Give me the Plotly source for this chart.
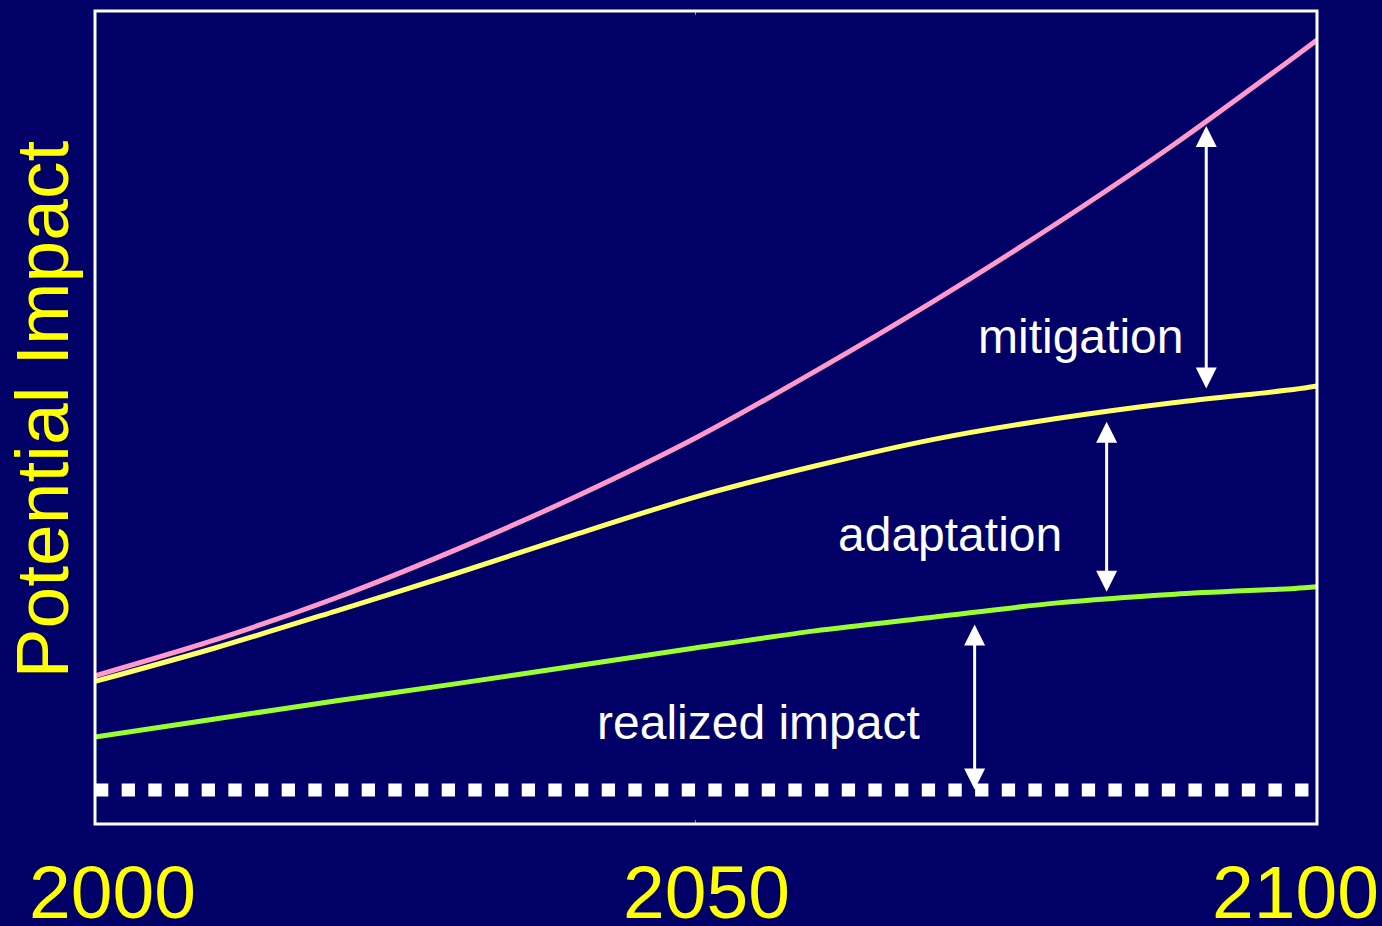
import numpy as np
import plotly.graph_objects as go

# Years sampled along each curve; the last sample sits on the right edge of the frame
X_END = 2101.83
years = [2000, 2010, 2020, 2030, 2040, 2050, 2060, 2070, 2080, 2090, 2100, X_END]

# Potential impact without any response (pink)
no_action = [14.0, 18.4, 23.5, 29.4, 35.9, 43.1, 51.3, 60.0, 69.3, 79.2, 89.9, 91.9]
# Potential impact after mitigation (yellow)
with_mitigation = [13.3, 17.4, 21.9, 26.5, 31.3, 35.9, 39.7, 43.0, 45.5, 47.5, 49.1, 49.5]
# Realized impact after adaptation as well (green)
with_adaptation = [6.5, 8.7, 10.9, 13.0, 15.2, 17.4, 19.5, 21.2, 22.9, 24.0, 24.7, 24.9]
# Reference level (no impact)
baseline = [0.0] * len(years)

tick_years = [2000, 2050, 2100]
tick_labels = ["2000", "2050", "2100"]

# Labelled double arrows between neighbouring curves
gap_labels = ["mitigation", "adaptation", "realized impact"]
gap_years = [2092.6, 2084.3, 2073.3]

BG = "#000066"
FONT = "Liberation Sans, Arial, sans-serif"
PX_PER_UNIT = 8.16  # vertical scale, used to keep arrow tips a few pixels off the curves

fig = go.Figure()

fig.add_trace(go.Scatter(x=years, y=baseline, mode="lines",
                         line=dict(color="white", width=13, dash="13.3px,13.37px"),
                         hoverinfo="skip"))
curve_style = dict(width=5, shape="spline", smoothing=0.8)
fig.add_trace(go.Scatter(x=years, y=with_adaptation, mode="lines",
                         line=dict(color="#99FF33", **curve_style), hoverinfo="skip"))
fig.add_trace(go.Scatter(x=years, y=with_mitigation, mode="lines",
                         line=dict(color="#FFFF66", **curve_style), hoverinfo="skip"))
fig.add_trace(go.Scatter(x=years, y=no_action, mode="lines",
                         line=dict(color="#FF99CC", **curve_style), hoverinfo="skip"))

# Double-headed arrows spanning the gap between neighbouring curves
pairs = [(no_action, with_mitigation), (with_mitigation, with_adaptation), (with_adaptation, baseline)]
gaps_px = [(5, 10), (10, 7), (12, 0)]
for (upper, lower), yr, (g_top, g_bot) in zip(pairs, gap_years, gaps_px):
    top = float(np.interp(yr, years, upper)) - g_top / PX_PER_UNIT
    bot = float(np.interp(yr, years, lower)) + g_bot / PX_PER_UNIT
    fig.add_annotation(x=yr, y=top, ax=yr, ay=bot, axref="x", ayref="y",
                       text="", showarrow=True, arrowside="end+start",
                       arrowhead=2, startarrowhead=2, arrowsize=1.4, startarrowsize=1.4,
                       arrowwidth=3, arrowcolor="white", font=dict(size=1), borderpad=0)

# Gap labels
label_pos = [(2082.1, 55.6), (2071.25, 31.3), (2055.25, 8.3)]
for txt, (lx, ly) in zip(gap_labels, label_pos):
    fig.add_annotation(x=lx, y=ly, text=txt, showarrow=False, xanchor="center", yanchor="middle",
                       font=dict(family=FONT, size=48, color="white"))

# Year labels under the frame
tick_shift = [17, 11, 0]
for yr, lab, sh in zip(tick_years, tick_labels, tick_shift):
    fig.add_annotation(x=yr, y=0, xref="x", yref="paper", text=lab, showarrow=False,
                       xanchor="center", yanchor="middle", xshift=sh, yshift=-68,
                       font=dict(family=FONT, size=75, color="#FFFF00"))

# Vertical axis title
fig.add_annotation(x=0, y=0.5, xref="paper", yref="paper", text="Potential Impact",
                   showarrow=False, textangle=-90, xanchor="center", yanchor="middle",
                   xshift=-54, yshift=8,
                   font=dict(family=FONT, size=75, color="#FFFF00"))

# Frame around the plotting area
fig.add_shape(type="rect", xref="paper", yref="paper", x0=0, x1=1, y0=0, y1=1,
              line=dict(color="white", width=3), layer="above")

fig.update_layout(
    width=1382, height=926,
    margin=dict(l=95, r=65, t=11, b=102),
    paper_bgcolor=BG, plot_bgcolor=BG,
    showlegend=False,
    xaxis=dict(range=[2000, X_END], showgrid=False, zeroline=False, showline=False,
               tickvals=[2050], ticks="inside", ticklen=4, tickcolor="#8888bb",
               showticklabels=False, mirror="allticks"),
    yaxis=dict(range=[-4.17, 95.47], showgrid=False, zeroline=False, showline=False,
               showticklabels=False, ticks=""),
)

fig.write_html("out.html")
